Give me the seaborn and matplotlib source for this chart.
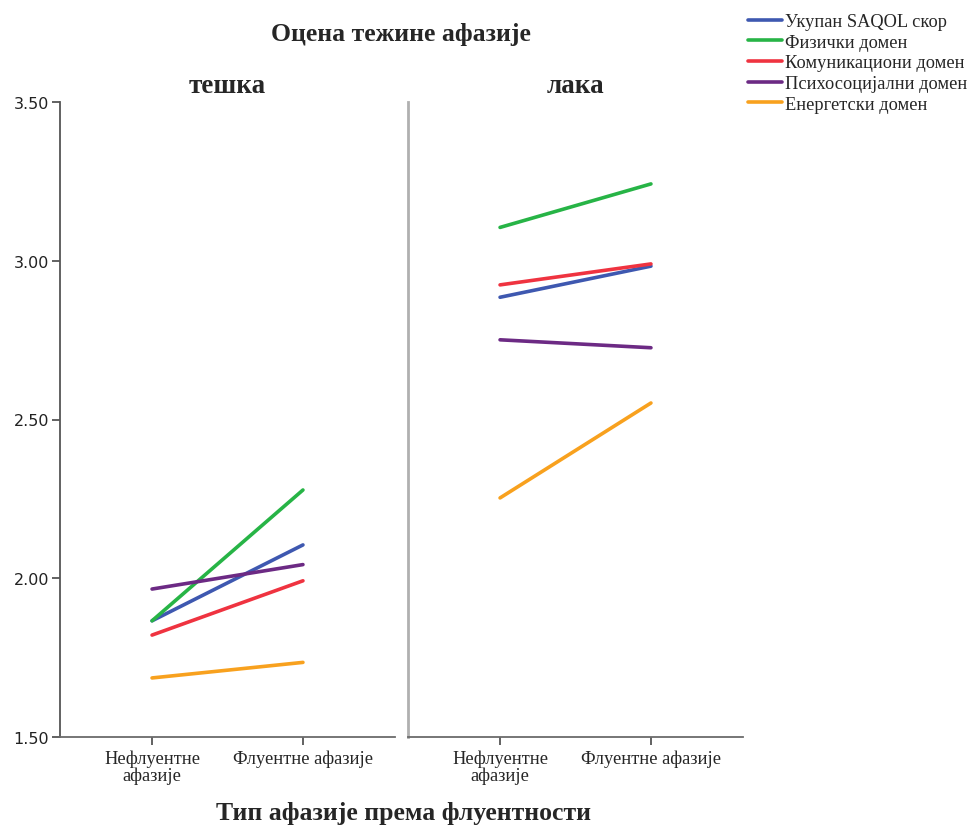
import seaborn as sns
import pandas as pd
from matplotlib import pyplot as plt

# values
severity = ['тешка', 'лака']
fluency = ['Нефлуентне\nафазије', 'Флуентне афазије']
domains = ['Укупан SAQOL скор', 'Физички домен', 'Комуникациони домен',
           'Психосоцијални домен', 'Енергетски домен']
colors = ['#3E58B0', '#27B446', '#EF3340', '#6C2A84', '#F8A11E']

# [domain][fluency] for each severity
severe = [[1.866, 2.105],
          [1.866, 2.278],
          [1.821, 1.992],
          [1.966, 2.043],
          [1.686, 1.735]]
mild = [[2.885, 2.983],
        [3.105, 3.242],
        [2.924, 2.990],
        [2.751, 2.726],
        [2.253, 2.552]]

rows = []
for sev, table in zip(severity, [severe, mild]):
    for dom, vals in zip(domains, table):
        for flu, v in zip(fluency, vals):
            rows.append({'severity': sev, 'domain': dom, 'fluency': flu, 'score': v})
df = pd.DataFrame(rows)

sns.set_style('white')
serif = 'Liberation Serif'

fig = plt.figure(figsize=(9.76, 8.29), dpi=100)
W, H = 976.0, 829.0
ax1 = fig.add_axes([60 / W, 1 - 738 / H, 335 / W, 635 / H])
ax2 = fig.add_axes([408 / W, 1 - 738 / H, 335 / W, 635 / H])

palette = dict(zip(domains, colors))
for ax, sev in zip([ax1, ax2], severity):
    sub = df[df.severity == sev]
    sns.lineplot(data=sub, x='fluency', y='score', hue='domain', hue_order=domains,
                 palette=palette, linewidth=2.6, ax=ax, legend=(ax is ax1))
    ax.set_ylim(1.5, 3.5)
    ax.set_xlim(-0.61, 1.61)
    ax.set_xlabel('')
    ax.set_ylabel('')
    ax.set_xticks([0, 1])
    ax.set_xticklabels(fluency, fontfamily=serif, fontsize=13.3, linespacing=0.95)
    ax.set_title(sev, fontfamily=serif, fontsize=19.5, fontweight='bold', pad=7)
    for s in ['top', 'right']:
        ax.spines[s].set_visible(False)
    ax.spines['bottom'].set_color('#6b6b6b')
    ax.spines['bottom'].set_linewidth(1.3)
    ax.tick_params(axis='x', bottom=True, length=6, width=1.3, color='#555555', pad=3)

ax1.set_yticks([1.5, 2.0, 2.5, 3.0, 3.5])
ax1.set_yticklabels(['1.50', '2.00', '2.50', '3.00', '3.50'], fontfamily='DejaVu Sans', fontsize=11.5,
                    color='#222222')
ax1.tick_params(axis='y', left=True, length=6, width=1.3, color='#555555', pad=2)
ax1.spines['left'].set_color('#555555')
ax1.spines['left'].set_linewidth(1.3)

ax2.set_yticks([1.5, 2.0, 2.5, 3.0, 3.5])
ax2.set_yticklabels([])
ax2.tick_params(axis='y', left=False)
ax2.spines['left'].set_color('#b0b0b0')
ax2.spines['left'].set_linewidth(2)

handles, labels = ax1.get_legend_handles_labels()
ax1.get_legend().remove()
fig.legend(handles, labels, loc='upper left', bbox_to_anchor=(748 / W, 1 - 14 / H),
           frameon=False, prop={'family': serif, 'size': 13.2}, handlelength=1.85,
           handletextpad=0.15, labelspacing=0.2, borderaxespad=0, borderpad=0)

fig.text(401 / W, 1 - 35 / H, 'Оцена тежине афазије', ha='center', va='center',
         fontfamily=serif, fontsize=18.5, fontweight='bold')
fig.text(404 / W, 1 - 814 / H, 'Тип афазије према флуентности', ha='center', va='center',
         fontfamily=serif, fontsize=18.5, fontweight='bold')

fig.savefig('out.png', dpi=100)
